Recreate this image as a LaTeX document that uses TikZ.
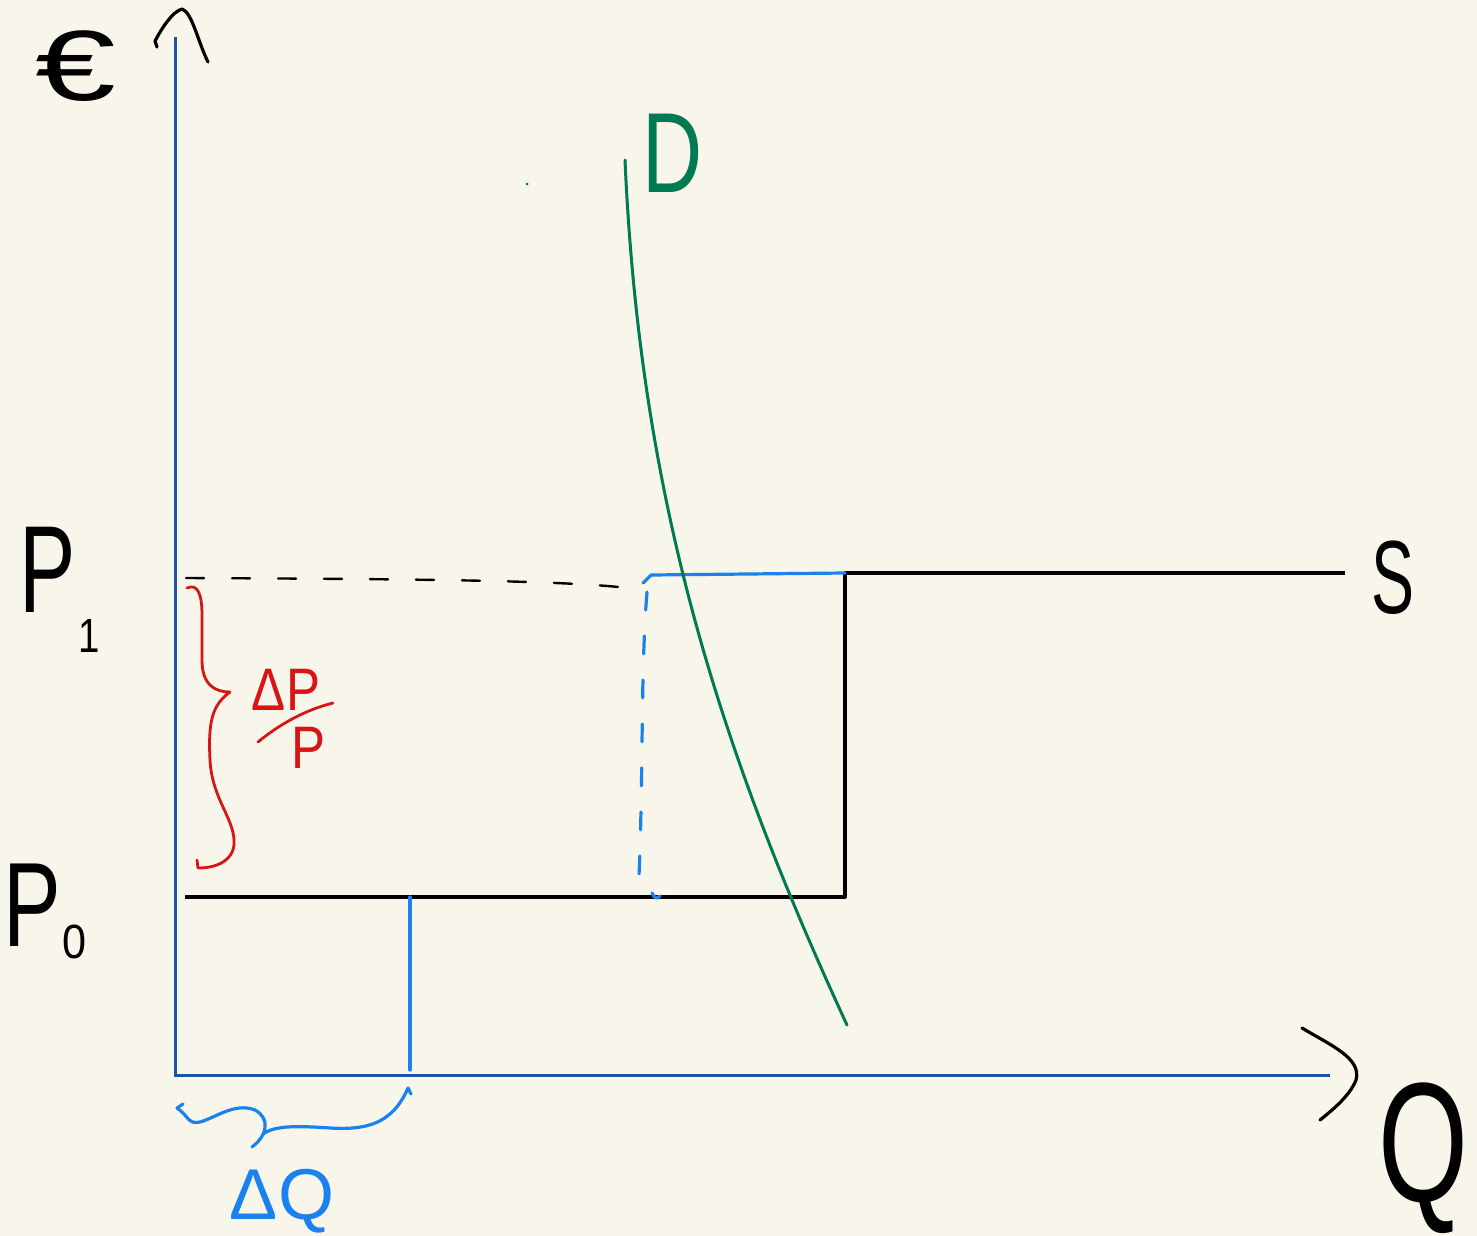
\documentclass[tikz,border=0pt]{standalone}
\usepackage{fontspec}
\usepackage{graphicx}
\setmainfont{Liberation Sans}
\definecolor{bg}{HTML}{F8F6EA}
\definecolor{axisblue}{HTML}{1A55A0}
\definecolor{brightblue}{HTML}{1A82EE}
\definecolor{dgreen}{HTML}{007A52}
\definecolor{dred}{HTML}{D81414}
\tikzset{
  axisline/.style={draw=axisblue,line width=1.5pt},
  inkblack/.style={draw=black,line width=1.6pt,line cap=round,line join=round},
  inkblue/.style={draw=brightblue,line width=1.6pt,line cap=round,line join=round},
  inkgreen/.style={draw=dgreen,line width=1.5pt,line cap=round},
  inkred/.style={draw=dred,line width=1.4pt,line cap=round,line join=round},
  lbl/.style={inner sep=0pt,outer sep=0pt},
}
\newcommand{\fs}[1]{\fontsize{#1pt}{#1pt}\selectfont}
\newcommand{\nx}[2]{\scalebox{#1}[1]{#2}}
\begin{document}
\begin{tikzpicture}[x=0.5pt,y=-0.5pt]
\fill[bg] (0,0) rectangle (1477,1236);
\useasboundingbox (0,0) rectangle (1477,1236);
% key coordinates
\coordinate (O) at (175,1075);
\coordinate (ytop) at (175,37);
\coordinate (xend) at (1330,1075);
\coordinate (p0l) at (185,897);
\coordinate (k0) at (845,897);
\coordinate (k1) at (845,573);
\coordinate (send) at (1345,573);
\coordinate (b1) at (651,575);
\coordinate (qmark) at (410,897);
\coordinate (qbase) at (410,1070);
\coordinate (dtop) at (625,160);
\coordinate (dbot) at (847,1025);
% axes
\draw[axisline] (ytop) -- (O) -- (xend);
% arrow heads (hand drawn)
\draw[inkblack] (157,47) -- (155,41) .. controls (162,28) and (172,12) .. (182,9) .. controls (192,12) and (198,42) .. (208,62);
\draw[inkblack] (1302,1028) .. controls (1330,1045) and (1362,1058) .. (1356,1080) .. controls (1350,1095) and (1335,1108) .. (1320,1120);
% supply curve
\draw[inkblack,line cap=butt] (p0l) -- (k0) -- (k1) -- (send);
% blue segment
\draw[inkblue] (k1) -- (b1) -- (643,583);
\draw[inkblue,dash pattern=on 9pt off 13pt] (647,592) .. controls (640,680) and (644,780) .. (638,897);
\draw[inkblue] (652,893) .. controls (654,899) and (658,899) .. (660,896);
% black dashed P1 line
\draw[inkblack,line width=1.2pt,dash pattern=on 9pt off 14pt] (186,578) .. controls (400,579) and (560,580) .. (628,588);
% blue vertical
\draw[inkblue] (qmark) -- (qbase);
% demand curve
\draw[inkgreen] (dtop) .. controls (640,500) and (720,750) .. (dbot);
\fill[dgreen] (527,184) circle (1.5);
% red brace
\draw[inkred] (187,588) .. controls (198,583) and (202,595) .. (202,615) -- (202,660) .. controls (202,685) and (215,692) .. (230,692) .. controls (212,705) and (208,722) .. (210,760) .. controls (212,800) and (236,820) .. (234,845) .. controls (232,862) and (215,868) .. (198,868) -- (197,860);
% blue brace
\draw[inkblue] (183,1104) -- (177,1108) .. controls (188,1115) and (188,1125) .. (200,1122) .. controls (215,1118) and (235,1102) .. (255,1110) .. controls (270,1118) and (268,1135) .. (252,1147);
\draw[inkblue] (263,1134) .. controls (275,1125) and (300,1126) .. (330,1128) .. controls (365,1130) and (392,1125) .. (408,1088) -- (411,1094);
% labels
\node[lbl] (euro) at (76,66) {\fs{50}\nx{1.45}{€}};
\node[lbl,text=dgreen] (dlab) at (673,153) {\fs{57}\nx{0.73}{D}};
\node[lbl] (p1) at (48,570) {\fs{62}\nx{0.68}{P}};
\node[lbl] (p1s) at (89,636) {\fs{24}\nx{0.8}{1}};
\node[lbl] (p0) at (32,905) {\fs{60}\nx{0.72}{P}};
\node[lbl] (p0s) at (75,942) {\fs{24}\nx{0.9}{0}};
\node[lbl] (slab) at (1393,578) {\fs{52}\nx{0.62}{S}};
\node[lbl] (qlab) at (1423,1158) {\fs{85}\nx{0.68}{Q}};
\node[lbl,text=dred] (dp) at (286,690) {\fs{30}\nx{0.85}{ΔP}};
\node[lbl,text=dred] (pp) at (309,748) {\fs{30}\nx{0.85}{P}};
\draw[inkred] (258,742) .. controls (280,724) and (305,710) .. (333,703);
\node[lbl,text=brightblue] (dq) at (282,1201) {\fs{36}ΔQ};
\end{tikzpicture}
\end{document}
